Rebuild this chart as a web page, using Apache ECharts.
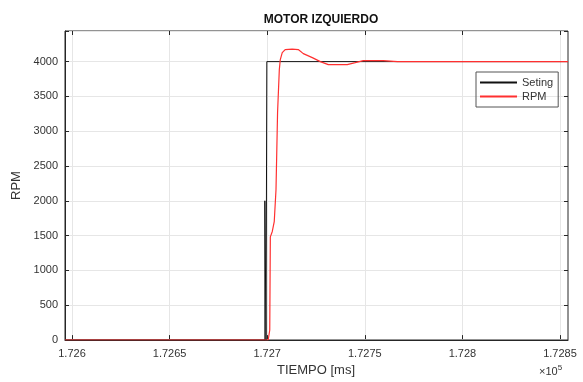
<!DOCTYPE html>
<html>
<head>
<meta charset="utf-8">
<script src="https://cdn.jsdelivr.net/npm/echarts@6/dist/echarts.min.js"></script>
<style>
  html, body { margin: 0; padding: 0; background: #fff; }
  #chart { width: 583px; height: 382px; }
</style>
</head>
<body>
<div id="chart"></div>
<script>
// tiempo en ms
const setingTime = [172596.4, 172698.8, 172698.8, 172699.4, 172699.8, 172699.8, 172854.1]
const setingRpm  = [0, 0, 2000, 0, 0, 4000, 4000]

const rpmTime = [172596.4, 172700.5, 172701.3, 172701.6, 172702.6, 172703.6, 172704.5, 172705.3, 172706.2,
  172706.7, 172707.7, 172709.2, 172712.8, 172715.9, 172718.5, 172723.1, 172727.2, 172731.3,
  172741.0, 172745.1, 172749.2, 172759.5, 172766.7, 172854.1]
const rpmValues = [0, 0, 144, 1482, 1560, 1700, 2158, 3266, 3885,
  4029, 4129, 4173, 4180, 4173, 4115, 4057, 4000, 3957,
  3957, 3985, 4014, 4014, 4000, 4000]

const xTicks = [172600, 172650, 172700, 172750, 172800, 172850]
const yMax = 4440

const zip = (a, b) => a.map((v, i) => [v, b[i]])

const chart = echarts.init(document.getElementById('chart'))
const txt = '#333'
const gridColor = '#e6e6e6'
const boxColor = '#262626'

chart.setOption({
  animation: false,
  backgroundColor: '#fff',
  title: {
    text: 'MOTOR IZQUIERDO',
    left: 316, top: 9, textAlign: 'center',
    textStyle: { fontFamily: 'Liberation Sans', fontSize: 12, fontWeight: 'bold', color: '#111' }
  },
  legend: {
    data: ['Seting', 'RPM'],
    orient: 'vertical',
    left: 476, top: 72,
    width: 84,
    padding: [5, 5, 5, 4],
    itemGap: 3,
    itemWidth: 37, itemHeight: 2,
    icon: 'rect',
    borderColor: '#555', borderWidth: 1,
    textStyle: { fontFamily: 'Liberation Sans', fontSize: 11, color: txt, padding: [0, 0, 0, 0] }
  },
  grid: [
    { left: 65, right: 15, top: 31, bottom: 42, show: true, borderColor: boxColor, borderWidth: 1 },
    { left: 72, right: 23, top: 31, bottom: 42 }
  ],
  xAxis: [
    {
      gridIndex: 0, type: 'value',
      min: setingTime[0], max: setingTime[setingTime.length - 1],
      axisLine: { lineStyle: { color: boxColor } },
      axisTick: { show: false }, axisLabel: { show: false }, splitLine: { show: false }
    },
    {
      gridIndex: 1, type: 'value', position: 'bottom',
      min: xTicks[0], max: xTicks[xTicks.length - 1], interval: 50,
      axisLine: { show: false },
      axisTick: { show: true, inside: true, length: 4, lineStyle: { color: boxColor } },
      splitLine: { show: true, lineStyle: { color: gridColor, width: 1 } },
      axisLabel: {
        fontFamily: 'Liberation Sans', fontSize: 11, color: txt, margin: 9,
        formatter: v => String(+(v / 1e5).toFixed(4))
      },
      name: 'TIEMPO [ms]', nameLocation: 'middle', nameGap: 24,
      nameTextStyle: { fontFamily: 'Liberation Sans', fontSize: 13, color: txt }
    },
    {
      gridIndex: 1, type: 'value', position: 'top',
      min: xTicks[0], max: xTicks[xTicks.length - 1], interval: 50,
      axisLine: { show: false },
      axisTick: { show: true, inside: true, length: 4, lineStyle: { color: boxColor } },
      axisLabel: { show: false }, splitLine: { show: false }
    }
  ],
  yAxis: [
    {
      gridIndex: 0, type: 'value', min: 0, max: yMax, interval: 500,
      axisLine: { show: true, lineStyle: { color: boxColor } },
      axisTick: { show: true, inside: true, length: 4, lineStyle: { color: boxColor } },
      splitLine: { show: true, lineStyle: { color: gridColor, width: 1 } },
      axisLabel: {
        fontFamily: 'Liberation Sans', fontSize: 11, color: txt, margin: 7,
        formatter: v => (v % 500 === 0 ? String(v) : '')
      },
      name: 'RPM', nameLocation: 'middle', nameGap: 37, nameRotate: 90,
      nameTextStyle: { fontFamily: 'Liberation Sans', fontSize: 13, color: txt }
    },
    {
      gridIndex: 0, type: 'value', min: 0, max: yMax, interval: 500, position: 'right',
      axisLine: { show: false },
      axisTick: { show: true, inside: true, length: 4, lineStyle: { color: boxColor } },
      axisLabel: { show: false }, splitLine: { show: false }
    },
    {
      gridIndex: 1, type: 'value', min: 0, max: yMax, show: false
    }
  ],
  graphic: [
    {
      type: 'text', left: 539, top: 364,
      style: {
        text: '×10{s|5}',
        rich: { s: { fontSize: 8, verticalAlign: 'top', padding: [0, 0, 8, 0], fill: txt } },
        fontFamily: 'Liberation Sans', fontSize: 11, fill: txt
      }
    }
  ],
  series: [
    {
      name: 'Seting', type: 'line', xAxisIndex: 0, yAxisIndex: 0,
      data: zip(setingTime, setingRpm),
      symbol: 'none', lineStyle: { color: '#111', width: 1 }, itemStyle: { color: '#111' }
    },
    {
      name: 'RPM', type: 'line', xAxisIndex: 0, yAxisIndex: 0,
      data: zip(rpmTime, rpmValues),
      symbol: 'none', lineStyle: { color: '#ff3030', width: 1.2 }, itemStyle: { color: '#ff3030' }
    }
  ]
})
</script>
</body>
</html>
